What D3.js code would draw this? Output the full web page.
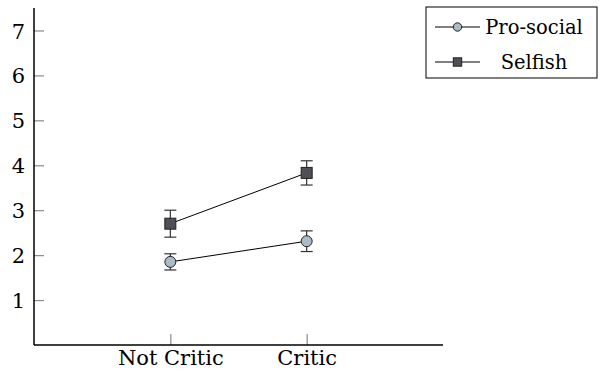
<!DOCTYPE html>
<html>
<head>
<meta charset="utf-8">
<script src="https://cdn.jsdelivr.net/npm/d3@7"></script>
<style>
  html, body { margin: 0; padding: 0; background: #fff; }
  svg { display: block; }
</style>
</head>
<body>
<svg id="chart" width="605" height="374"></svg>
<script>
// Conditions on the x axis
const categories = ["Not Critic", "Critic"];
// Group names
const seriesNames = ["Pro-social", "Selfish"];
// Means per condition
const prosocialMean = [1.85, 2.31];
const selfishMean = [2.70, 3.83];
// Error bar half-widths
const prosocialErr = [0.18, 0.23];
const selfishErr = [0.30, 0.27];
// Y tick values
const yTicks = [1, 2, 3, 4, 5, 6, 7];

const svg = d3.select("#chart");
const margin = { left: 34, right: 162, top: 8, bottom: 29 };
const W = 605, H = 374;
const serif = "'DejaVu Serif', serif";

const x = d3.scaleLinear().domain([-1, 2]).range([margin.left, W - margin.right]);
const y = d3.scaleLinear().domain([0, 7.5]).range([H - margin.bottom, margin.top]);

const series = [
  { name: seriesNames[0], mean: prosocialMean, err: prosocialErr, shape: "circle", fill: "#a9bcc6" },
  { name: seriesNames[1], mean: selfishMean, err: selfishErr, shape: "square", fill: "#4f4f57" }
];

// Y axis: ticks point into the plot
const yAxis = d3.axisRight(y).tickValues(yTicks).tickSize(10).tickFormat(d3.format("d"));
const gy = svg.append("g").attr("transform", `translate(${margin.left},0)`).call(yAxis);
gy.select(".domain").remove();
gy.selectAll(".tick line").attr("stroke", "#8a8a8a").attr("stroke-width", 1.2);
gy.selectAll(".tick text")
  .attr("x", -9).attr("text-anchor", "end").attr("dy", "0.36em")
  .attr("font-family", serif).attr("font-size", 21);

// X axis: category ticks at 0 and 1, pointing up
const xAxis = d3.axisTop(x).tickValues([0, 1]).tickSize(11).tickFormat(i => categories[i]);
const gx = svg.append("g").attr("transform", `translate(0,${y(0)})`).call(xAxis);
gx.select(".domain").remove();
gx.selectAll(".tick line").attr("stroke", "#8a8a8a").attr("stroke-width", 1.2);
gx.selectAll(".tick text")
  .attr("y", 20).attr("dy", "0")
  .attr("font-family", serif).attr("font-size", 21);

// Axis lines
svg.append("line")
  .attr("x1", x(-1)).attr("x2", x(-1)).attr("y1", y(7.5)).attr("y2", y(0))
  .attr("stroke", "#000").attr("stroke-width", 1.5);
svg.append("line")
  .attr("x1", x(-1)).attr("x2", x(2)).attr("y1", y(0)).attr("y2", y(0))
  .attr("stroke", "#000").attr("stroke-width", 1.5);

const line = d3.line().x((d, i) => x(i)).y(d => y(d));

function drawMarker(g, shape, cx, cy, fill, size) {
  if (shape === "circle") {
    g.append("circle").attr("cx", cx).attr("cy", cy).attr("r", size)
      .attr("fill", fill).attr("stroke", "#222").attr("stroke-width", 1);
  } else {
    g.append("rect").attr("x", cx - size).attr("y", cy - size)
      .attr("width", size * 2).attr("height", size * 2)
      .attr("fill", fill).attr("stroke", "#222").attr("stroke-width", 1);
  }
}

series.forEach(s => {
  const g = svg.append("g");
  g.append("path").datum(s.mean).attr("d", line)
    .attr("fill", "none").attr("stroke", "#000").attr("stroke-width", 1);
  s.mean.forEach((m, i) => {
    const cx = x(i);
    const lo = y(m - s.err[i]), hi = y(m + s.err[i]);
    g.append("line").attr("x1", cx).attr("x2", cx).attr("y1", lo).attr("y2", hi)
      .attr("stroke", "#333").attr("stroke-width", 1.2);
    [lo, hi].forEach(v => g.append("line")
      .attr("x1", cx - 6).attr("x2", cx + 6).attr("y1", v).attr("y2", v)
      .attr("stroke", "#333").attr("stroke-width", 1.2));
    drawMarker(g, s.shape, cx, y(m), s.fill, 5.5);
  });
});

// Legend
const lg = svg.append("g");
lg.append("rect").attr("x", 426).attr("y", 7).attr("width", 171).attr("height", 71)
  .attr("fill", "#fff").attr("stroke", "#000").attr("stroke-width", 1);
series.forEach((s, i) => {
  const cy = 27 + i * 35;
  lg.append("line").attr("x1", 435).attr("x2", 480).attr("y1", cy).attr("y2", cy)
    .attr("stroke", "#000").attr("stroke-width", 1);
  drawMarker(lg, s.shape, 457.5, cy, s.fill, 4.2);
  lg.append("text").attr("x", 534).attr("y", cy).attr("dy", "0.36em")
    .attr("text-anchor", "middle")
    .attr("font-family", serif).attr("font-size", 19.5).text(s.name);
});
</script>
</body>
</html>
